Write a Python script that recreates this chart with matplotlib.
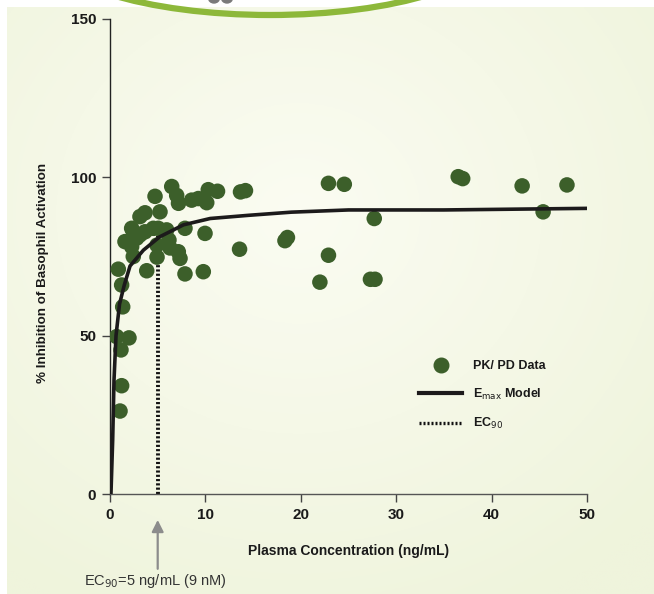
import numpy as np
import matplotlib
matplotlib.use("Agg")
import matplotlib.pyplot as plt
from matplotlib.patches import Arc, Circle
from matplotlib.lines import Line2D

plt.rcParams['font.family'] = ['Liberation Sans Narrow', 'Liberation Sans', 'DejaVu Sans']

# ---- data ----
pk_conc = [1.05, 1.22, 1.15, 0.70, 1.99, 1.33, 1.22, 0.87, 3.85, 1.57,
           2.27, 2.44, 2.80, 2.45, 3.14, 2.27, 3.14, 3.67, 4.72, 5.24,
           4.54, 5.06, 5.94, 4.93, 4.93, 6.18, 6.29, 7.16, 7.34, 7.86,
           6.47, 6.99, 7.18, 8.56, 9.26, 10.14, 10.3, 11.27, 7.86, 9.96,
           9.78, 13.58, 13.68, 14.2, 18.34, 18.6, 22.0, 22.9, 22.9, 24.56,
           27.3, 27.78, 27.7, 36.5, 36.97, 43.2, 45.4, 47.9, 3.67]
pk_inhib = [26.2, 34.2, 45.5, 49.7, 49.3, 59.1, 66.0, 71.0, 70.5, 79.7,
            78.1, 75.0, 80.8, 82.8, 81.8, 83.9, 87.6, 88.8, 94.0, 89.1,
            83.9, 83.9, 83.4, 78.6, 74.8, 80.2, 77.7, 76.5, 74.4, 69.5,
            97.1, 94.3, 91.8, 92.8, 93.3, 92.0, 96.1, 95.6, 83.9, 82.3,
            70.2, 77.3, 95.4, 95.8, 80.0, 81.0, 66.9, 98.1, 75.4, 97.8,
            67.8, 67.8, 87.0, 100.2, 99.6, 97.3, 89.1, 97.6, 82.8]

model_conc = [0.1, 0.28, 0.42, 0.63, 1.0, 1.5, 2.1, 3.5, 5.2, 7.7, 10.5,
              14.5, 19.0, 25.0, 35.0, 50.0]
model_inhib = [0.0, 17.0, 36.0, 50.0, 60.0, 66.0, 72.0, 77.0, 81.2, 85.0,
               87.0, 88.0, 89.0, 89.7, 89.7, 90.2]

ec90_x = [5.0, 5.0]
ec90_y = [0.0, 81.5]

x_ticks = [0, 10, 20, 30, 40, 50]
y_ticks = [0, 50, 100, 150]

W, H = 654, 594
fig = plt.figure(figsize=(W / 100, H / 100), dpi=100)
fig.patch.set_facecolor('white')

# background gradient panel
bg = fig.add_axes([7 / W, 0, 1 - 7 / W, 1 - 7 / H])
bg.set_axis_off()
ny, nx = 300, 330
yy, xx = np.mgrid[0:ny, 0:nx]
cx, cy = nx * 0.45, ny * 0.35
r = np.sqrt(((xx - cx) / nx) ** 2 + ((yy - cy) / ny) ** 2)
r = np.clip(r / 0.75, 0, 1)
c0 = np.array([251, 252, 242]) / 255.0
c1 = np.array([239, 244, 220]) / 255.0
img = c0[None, None, :] * (1 - r[..., None]) + c1[None, None, :] * r[..., None]
bg.imshow(img, aspect='auto', extent=[0, 1, 0, 1], origin='upper')
bg.set_xlim(0, 1)
bg.set_ylim(0, 1)

# decorative green arc at the top
arc = Arc((270 / W, 1 + 57 / H), 2 * 228 / W, 2 * 72 / H, theta1=180, theta2=360,
          transform=fig.transFigure, color='#8db83a', lw=4.5, zorder=5)
fig.patches.append(arc)
for px in (214, 227):
    fig.patches.append(Circle((px / W, 1 + 2 / H), 5.5 / W, transform=fig.transFigure,
                              color='#7a7a7a', zorder=5))

ax = fig.add_axes([110 / W, 1 - 494 / H, 477 / W, 475 / H])
ax.set_facecolor('none')
ax.set_xlim(0, 50)
ax.set_ylim(0, 150)

ax.plot(ec90_x, ec90_y, color='#111111', lw=2.8, ls=(0, (0.55, 0.55)), zorder=2,
        solid_capstyle='butt')
ax.scatter(pk_conc, pk_inhib, s=125, color='#3c5f2a', edgecolors='none', zorder=3)
ax.plot(model_conc, model_inhib, color='#1c1a1b', lw=2.6, zorder=4,
        solid_capstyle='round')

for s in ('top', 'right'):
    ax.spines[s].set_visible(False)
ax.spines['left'].set_color('#222222')
ax.spines['bottom'].set_color('#555555')
ax.spines['left'].set_linewidth(1.0)
ax.spines['bottom'].set_linewidth(1.0)
ax.set_xticks(x_ticks)
ax.set_yticks(y_ticks)
ax.tick_params(axis='both', direction='out', length=6, width=1, colors='#444444',
               labelcolor='#1a1a1a', labelsize=11, pad=4)
for lab in ax.get_xticklabels() + ax.get_yticklabels():
    lab.set_fontweight('bold')

ax.set_xlabel('Plasma Concentration (ng/mL)', fontsize=10, fontweight='bold',
              color='#1a1a1a', labelpad=16)
ax.set_ylabel('% Inhibition of Basophil Activation', fontsize=9.6, fontweight='bold',
              color='#1a1a1a')
ax.yaxis.set_label_coords(-0.128, 0.466)

# EC90 annotation
ax.annotate('', xy=(5, -7.3), xytext=(5, -24.5), annotation_clip=False,
            arrowprops=dict(arrowstyle='-|>,head_length=0.7,head_width=0.35',
                            color='#8c8c8c', lw=1.6))
ax.text(4.8, -27.5, 'EC$_{90}$=5 ng/mL (9 nM)', ha='center', va='center',
        fontsize=10.5, color='#333333', clip_on=False)

handles = [
    Line2D([], [], ls='none', marker='o', markersize=10.5, color='#3c5f2a'),
    Line2D([], [], color='#1c1a1b', lw=3.0),
    Line2D([], [], color='#111111', lw=2.4, ls=(0, (0.6, 0.6))),
]
labels = ['PK/ PD Data', 'E$_{\\mathrm{max}}$ Model', 'EC$_{90}$']
leg = ax.legend(handles, labels, loc='upper left', bbox_to_anchor=(0.625, 0.305),
                frameon=False, handlelength=3.4, handletextpad=0.9, labelspacing=1.15,
                prop={'size': 9, 'weight': 'bold'})
for t in leg.get_texts():
    t.set_color('#1a1a1a')

fig.savefig('out.png', dpi=100)
